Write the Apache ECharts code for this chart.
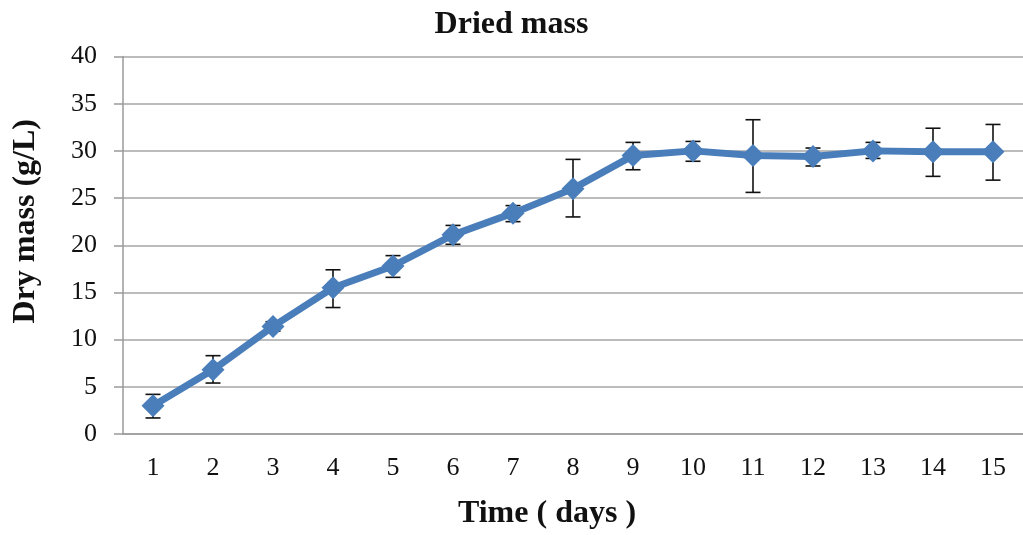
<!DOCTYPE html>
<html>
<head>
<meta charset="utf-8">
<title>Dried mass</title>
<script src="https://cdn.jsdelivr.net/npm/echarts@6/dist/echarts.min.js"></script>
<style>
  html, body { margin: 0; padding: 0; background: #fff; overflow: hidden; }
  #chart { width: 1023px; height: 535px; }
</style>
</head>
<body>
<div id="chart"></div>
<script>
// data
var days = ['1', '2', '3', '4', '5', '6', '7', '8', '9', '10', '11', '12', '13', '14', '15'];
var dryMass = [3.0, 6.8, 11.4, 15.5, 17.8, 21.1, 23.4, 26.0, 29.5, 30.0, 29.5, 29.4, 30.0, 29.9, 29.9];
var errTop = [4.2, 8.3, 11.9, 17.4, 18.9, 22.1, 24.2, 29.1, 30.9, 31.0, 33.3, 30.3, 30.9, 32.4, 32.8];
var errBottom = [1.7, 5.4, 10.9, 13.4, 16.6, 20.1, 22.5, 23.0, 28.0, 28.9, 25.6, 28.4, 29.2, 27.3, 26.9];

var errData = days.map(function (d, i) { return [i, errBottom[i], errTop[i]]; });

var chart = echarts.init(document.getElementById('chart'));
var serif = 'Liberation Serif, Times New Roman, serif';

chart.setOption({
    animation: false,
    title: {
        text: 'Dried mass',
        left: 'center',
        top: 4,
        textStyle: { fontFamily: serif, fontWeight: 'bold', fontSize: 32, color: '#111' }
    },
    // plot runs a little past the right edge, as in the original
    grid: { left: 123, width: 905, top: 56.5, height: 382 },
    xAxis: {
        type: 'category',
        data: days,
        name: 'Time ( days )',
        nameLocation: 'middle',
        nameGap: 64,
        nameTextStyle: { fontFamily: serif, fontWeight: 'bold', fontSize: 32, color: '#111', padding: [0, 52, 0, 0] },
        axisLine: { lineStyle: { color: '#9a9a9a', width: 1.5 } },
        axisTick: { show: false },
        axisLabel: { fontFamily: serif, fontSize: 26, color: '#111', margin: 21 }
    },
    yAxis: {
        type: 'value',
        min: 0,
        max: 40,
        interval: 5,
        name: 'Dry mass (g/L)',
        nameLocation: 'middle',
        nameGap: 81,
        nameTextStyle: { fontFamily: serif, fontWeight: 'bold', fontSize: 32, color: '#111', padding: [0, 0, 0, 48] },
        axisLine: { show: true, lineStyle: { color: '#9a9a9a', width: 1.5 } },
        axisTick: { show: true, length: 9, lineStyle: { color: '#9a9a9a', width: 1.5 } },
        splitLine: { lineStyle: { color: '#a6a6a6', width: 1.5 } },
        axisLabel: { fontFamily: serif, fontSize: 26, color: '#111', margin: 26 }
    },
    series: [
        {
            type: 'custom',
            data: errData,
            z: 1,
            renderItem: function (params, api) {
                var x = api.value(0);
                var lo = api.coord([x, api.value(1)]);
                var hi = api.coord([x, api.value(2)]);
                var hw = 7.5;
                var style = { stroke: '#111', lineWidth: 1.6 };
                return {
                    type: 'group',
                    children: [
                        { type: 'line', shape: { x1: hi[0], y1: hi[1], x2: lo[0], y2: lo[1] }, style: style },
                        { type: 'line', shape: { x1: hi[0] - hw, y1: hi[1], x2: hi[0] + hw, y2: hi[1] }, style: style },
                        { type: 'line', shape: { x1: lo[0] - hw, y1: lo[1], x2: lo[0] + hw, y2: lo[1] }, style: style }
                    ]
                };
            }
        },
        {
            type: 'line',
            data: dryMass,
            symbol: 'diamond',
            symbolSize: 23,
            lineStyle: { color: '#4a7ebb', width: 7 },
            itemStyle: { color: '#4a7ebb' },
            z: 2
        }
    ]
});
</script>
</body>
</html>
